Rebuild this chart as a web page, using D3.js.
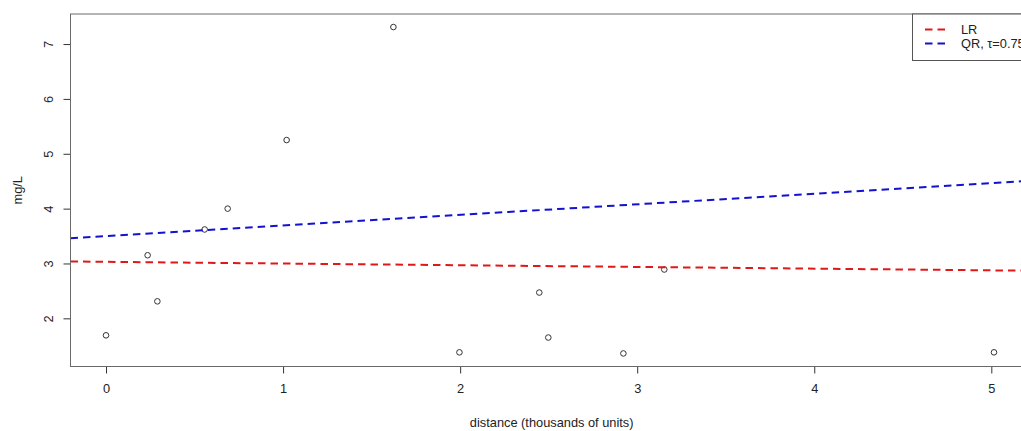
<!DOCTYPE html>
<html>
<head>
<meta charset="utf-8">
<script src="https://cdn.jsdelivr.net/npm/d3@7"></script>
<style>
  html, body { margin: 0; padding: 0; background: #fff; overflow: hidden; }
  svg text { font-family: "Liberation Sans", Arial, sans-serif; fill: #222; }
</style>
</head>
<body>
<svg id="chart" width="1021" height="431"></svg>
<script>
// Observed concentrations versus distance
const distance = [0, 0.235, 0.29, 0.557, 0.687, 1.02, 1.623, 1.996, 2.447, 2.498, 2.922, 3.153, 5.015];
const concentration = [1.69, 3.15, 2.31, 3.62, 4.0, 5.25, 7.31, 1.38, 2.47, 1.65, 1.36, 2.89, 1.38];

// Fitted lines: [intercept, slope]
const lrFit = [3.03, -0.031];
const qrFit = [3.50, 0.193];

const xTicks = [0, 1, 2, 3, 4, 5];
const yTicks = [2, 3, 4, 5, 6, 7];

const legendLabels = ["LR", "QR, \u03c4=0.75"];
const legendColors = ["#e01818", "#1212d0"];

const svg = d3.select("#chart");
const plot = { left: 70.5, right: 1029.5, top: 14, bottom: 366.5 };
const fontSize = "12.8px";

// 4% padding on each side of the data range
function padded(ext) {
  const p = (ext[1] - ext[0]) * 0.04;
  return [ext[0] - p, ext[1] + p];
}
const xDom = padded(d3.extent(distance));
const yDom = padded(d3.extent(concentration));

const x = d3.scaleLinear().domain(xDom).range([plot.left, plot.right]);
const y = d3.scaleLinear().domain(yDom).range([plot.bottom, plot.top]);

svg.append("clipPath").attr("id", "plotclip")
  .append("rect")
  .attr("x", plot.left).attr("y", plot.top)
  .attr("width", plot.right - plot.left).attr("height", plot.bottom - plot.top);

// Axes
const xAxis = svg.append("g")
  .attr("transform", `translate(0,${plot.bottom})`)
  .call(d3.axisBottom(x).tickValues(xTicks).tickFormat(d3.format("d")).tickSize(7).tickPadding(10));
xAxis.select(".domain").remove();
xAxis.selectAll("line").attr("stroke", "#333");
xAxis.selectAll("text").style("font-size", fontSize).attr("fill", "#222")
  .style("font-family", "Liberation Sans, Arial, sans-serif");

const yAxis = svg.append("g")
  .attr("transform", `translate(${plot.left},0)`)
  .call(d3.axisLeft(y).tickValues(yTicks).tickFormat(d3.format("d")).tickSize(7).tickPadding(0));
yAxis.select(".domain").remove();
yAxis.selectAll("line").attr("stroke", "#333");
yAxis.selectAll("text")
  .attr("x", null).attr("dy", null)
  .attr("text-anchor", "middle")
  .attr("dominant-baseline", "central")
  .attr("transform", "translate(-22,0) rotate(-90)")
  .style("font-size", fontSize)
  .style("font-family", "Liberation Sans, Arial, sans-serif")
  .attr("fill", "#222");

// Axis titles
svg.append("text")
  .attr("x", (x(xTicks[0]) + x(xTicks[xTicks.length - 1])) / 2 + 3)
  .attr("y", 422)
  .attr("text-anchor", "middle")
  .attr("dominant-baseline", "central")
  .style("font-size", fontSize)
  .text("distance (thousands of units)");

svg.append("text")
  .attr("transform", `translate(17,${(plot.top + plot.bottom) / 2}) rotate(-90)`)
  .attr("text-anchor", "middle")
  .attr("dominant-baseline", "central")
  .style("font-size", fontSize)
  .text("mg/L");

// Points
svg.append("g").selectAll("circle")
  .data(distance.map((d, i) => [d, concentration[i]]))
  .join("circle")
  .attr("cx", d => x(d[0]))
  .attr("cy", d => y(d[1]))
  .attr("r", 2.8)
  .attr("fill", "none")
  .attr("stroke", "#333")
  .attr("stroke-width", 1);

// Fitted lines across the full plot width
const fits = [lrFit, qrFit];
svg.append("g").attr("clip-path", "url(#plotclip)")
  .selectAll("line")
  .data(fits)
  .join("line")
  .attr("x1", x(xDom[0])).attr("x2", x(xDom[1]))
  .attr("y1", f => y(f[0] + f[1] * xDom[0]))
  .attr("y2", f => y(f[0] + f[1] * xDom[1]))
  .attr("stroke", (f, i) => legendColors[i])
  .attr("stroke-width", 2)
  .attr("stroke-dasharray", "7.5,5");

// Plot frame
svg.append("rect")
  .attr("x", plot.left).attr("y", plot.top)
  .attr("width", plot.right - plot.left).attr("height", plot.bottom - plot.top)
  .attr("fill", "none").attr("stroke", "#6a6a6a").attr("stroke-width", 1);

// Legend
const lg = svg.append("g").attr("transform", "translate(912.5,14)");
lg.append("rect")
  .attr("x", 0).attr("y", 0).attr("width", 140).attr("height", 46.5)
  .attr("fill", "#fff").attr("stroke", "#555").attr("stroke-width", 1);
const rows = lg.selectAll("g.row").data(legendLabels).join("g")
  .attr("class", "row")
  .attr("transform", (d, i) => `translate(0,${15.5 + i * 14})`);
rows.append("line")
  .attr("x1", 12.5).attr("x2", 33)
  .attr("stroke", (d, i) => legendColors[i])
  .attr("stroke-width", 2)
  .attr("stroke-dasharray", "7.5,5");
rows.append("text")
  .attr("x", 48.5)
  .attr("dominant-baseline", "central")
  .style("font-size", fontSize)
  .text(d => d);
</script>
</body>
</html>
